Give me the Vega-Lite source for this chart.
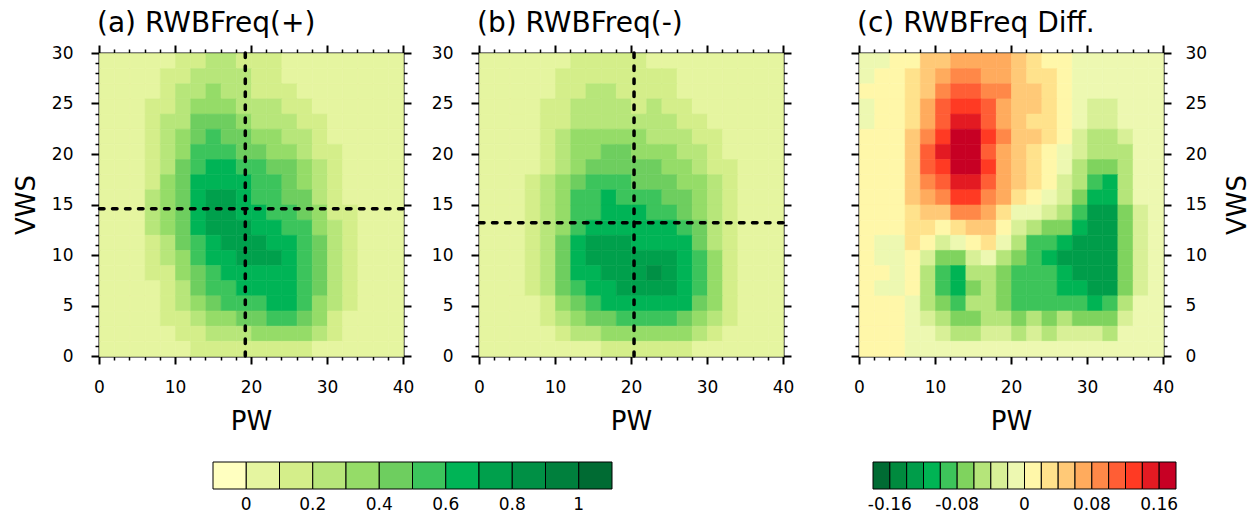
{
"$schema":"https://vega.github.io/schema/vega-lite/v6.json",
"background":"white",
"padding":{"left":13,"top":10,"right":0,"bottom":0},
"autosize":{"type":"pad"},
"spacing":76,
"bounds":"flush",
"resolve":{"scale":{"color":"independent","stroke":"independent"},"legend":{"color":"independent","stroke":"independent"}},
"datasets":{
"pa":[
{"x":1,"y":29.25,"v":0.05},{"x":3,"y":29.25,"v":0.05},{"x":5,"y":29.25,"v":0.05},{"x":7,"y":29.25,"v":0.05},{"x":9,"y":29.25,"v":0.05},{"x":11,"y":29.25,"v":0.15},{"x":13,"y":29.25,"v":0.15},{"x":15,"y":29.25,"v":0.25},{"x":17,"y":29.25,"v":0.25},{"x":19,"y":29.25,"v":0.15},{"x":21,"y":29.25,"v":0.15},{"x":23,"y":29.25,"v":0.15},{"x":25,"y":29.25,"v":0.05},{"x":27,"y":29.25,"v":0.05},{"x":29,"y":29.25,"v":0.05},{"x":31,"y":29.25,"v":0.05},{"x":33,"y":29.25,"v":0.05},{"x":35,"y":29.25,"v":0.05},{"x":37,"y":29.25,"v":0.05},{"x":39,"y":29.25,"v":0.05},
{"x":1,"y":27.75,"v":0.05},{"x":3,"y":27.75,"v":0.05},{"x":5,"y":27.75,"v":0.05},{"x":7,"y":27.75,"v":0.05},{"x":9,"y":27.75,"v":0.15},{"x":11,"y":27.75,"v":0.15},{"x":13,"y":27.75,"v":0.25},{"x":15,"y":27.75,"v":0.25},{"x":17,"y":27.75,"v":0.25},{"x":19,"y":27.75,"v":0.25},{"x":21,"y":27.75,"v":0.15},{"x":23,"y":27.75,"v":0.15},{"x":25,"y":27.75,"v":0.05},{"x":27,"y":27.75,"v":0.05},{"x":29,"y":27.75,"v":0.05},{"x":31,"y":27.75,"v":0.05},{"x":33,"y":27.75,"v":0.05},{"x":35,"y":27.75,"v":0.05},{"x":37,"y":27.75,"v":0.05},{"x":39,"y":27.75,"v":0.05},
{"x":1,"y":26.25,"v":0.05},{"x":3,"y":26.25,"v":0.05},{"x":5,"y":26.25,"v":0.05},{"x":7,"y":26.25,"v":0.05},{"x":9,"y":26.25,"v":0.15},{"x":11,"y":26.25,"v":0.25},{"x":13,"y":26.25,"v":0.25},{"x":15,"y":26.25,"v":0.35},{"x":17,"y":26.25,"v":0.25},{"x":19,"y":26.25,"v":0.25},{"x":21,"y":26.25,"v":0.15},{"x":23,"y":26.25,"v":0.15},{"x":25,"y":26.25,"v":0.15},{"x":27,"y":26.25,"v":0.05},{"x":29,"y":26.25,"v":0.05},{"x":31,"y":26.25,"v":0.05},{"x":33,"y":26.25,"v":0.05},{"x":35,"y":26.25,"v":0.05},{"x":37,"y":26.25,"v":0.05},{"x":39,"y":26.25,"v":0.05},
{"x":1,"y":24.75,"v":0.05},{"x":3,"y":24.75,"v":0.05},{"x":5,"y":24.75,"v":0.05},{"x":7,"y":24.75,"v":0.15},{"x":9,"y":24.75,"v":0.15},{"x":11,"y":24.75,"v":0.25},{"x":13,"y":24.75,"v":0.35},{"x":15,"y":24.75,"v":0.35},{"x":17,"y":24.75,"v":0.35},{"x":19,"y":24.75,"v":0.25},{"x":21,"y":24.75,"v":0.25},{"x":23,"y":24.75,"v":0.25},{"x":25,"y":24.75,"v":0.15},{"x":27,"y":24.75,"v":0.15},{"x":29,"y":24.75,"v":0.05},{"x":31,"y":24.75,"v":0.05},{"x":33,"y":24.75,"v":0.05},{"x":35,"y":24.75,"v":0.05},{"x":37,"y":24.75,"v":0.05},{"x":39,"y":24.75,"v":0.05},
{"x":1,"y":23.25,"v":0.05},{"x":3,"y":23.25,"v":0.05},{"x":5,"y":23.25,"v":0.05},{"x":7,"y":23.25,"v":0.15},{"x":9,"y":23.25,"v":0.25},{"x":11,"y":23.25,"v":0.25},{"x":13,"y":23.25,"v":0.45},{"x":15,"y":23.25,"v":0.45},{"x":17,"y":23.25,"v":0.45},{"x":19,"y":23.25,"v":0.35},{"x":21,"y":23.25,"v":0.25},{"x":23,"y":23.25,"v":0.25},{"x":25,"y":23.25,"v":0.25},{"x":27,"y":23.25,"v":0.15},{"x":29,"y":23.25,"v":0.15},{"x":31,"y":23.25,"v":0.05},{"x":33,"y":23.25,"v":0.05},{"x":35,"y":23.25,"v":0.05},{"x":37,"y":23.25,"v":0.05},{"x":39,"y":23.25,"v":0.05},
{"x":1,"y":21.75,"v":0.05},{"x":3,"y":21.75,"v":0.05},{"x":5,"y":21.75,"v":0.05},{"x":7,"y":21.75,"v":0.15},{"x":9,"y":21.75,"v":0.25},{"x":11,"y":21.75,"v":0.35},{"x":13,"y":21.75,"v":0.45},{"x":15,"y":21.75,"v":0.55},{"x":17,"y":21.75,"v":0.45},{"x":19,"y":21.75,"v":0.45},{"x":21,"y":21.75,"v":0.35},{"x":23,"y":21.75,"v":0.35},{"x":25,"y":21.75,"v":0.25},{"x":27,"y":21.75,"v":0.25},{"x":29,"y":21.75,"v":0.15},{"x":31,"y":21.75,"v":0.05},{"x":33,"y":21.75,"v":0.05},{"x":35,"y":21.75,"v":0.05},{"x":37,"y":21.75,"v":0.05},{"x":39,"y":21.75,"v":0.05},
{"x":1,"y":20.25,"v":0.05},{"x":3,"y":20.25,"v":0.05},{"x":5,"y":20.25,"v":0.05},{"x":7,"y":20.25,"v":0.15},{"x":9,"y":20.25,"v":0.25},{"x":11,"y":20.25,"v":0.35},{"x":13,"y":20.25,"v":0.55},{"x":15,"y":20.25,"v":0.55},{"x":17,"y":20.25,"v":0.55},{"x":19,"y":20.25,"v":0.45},{"x":21,"y":20.25,"v":0.45},{"x":23,"y":20.25,"v":0.35},{"x":25,"y":20.25,"v":0.35},{"x":27,"y":20.25,"v":0.25},{"x":29,"y":20.25,"v":0.15},{"x":31,"y":20.25,"v":0.15},{"x":33,"y":20.25,"v":0.05},{"x":35,"y":20.25,"v":0.05},{"x":37,"y":20.25,"v":0.05},{"x":39,"y":20.25,"v":0.05},
{"x":1,"y":18.75,"v":0.05},{"x":3,"y":18.75,"v":0.05},{"x":5,"y":18.75,"v":0.05},{"x":7,"y":18.75,"v":0.15},{"x":9,"y":18.75,"v":0.25},{"x":11,"y":18.75,"v":0.45},{"x":13,"y":18.75,"v":0.55},{"x":15,"y":18.75,"v":0.65},{"x":17,"y":18.75,"v":0.65},{"x":19,"y":18.75,"v":0.55},{"x":21,"y":18.75,"v":0.55},{"x":23,"y":18.75,"v":0.45},{"x":25,"y":18.75,"v":0.45},{"x":27,"y":18.75,"v":0.35},{"x":29,"y":18.75,"v":0.25},{"x":31,"y":18.75,"v":0.15},{"x":33,"y":18.75,"v":0.05},{"x":35,"y":18.75,"v":0.05},{"x":37,"y":18.75,"v":0.05},{"x":39,"y":18.75,"v":0.05},
{"x":1,"y":17.25,"v":0.05},{"x":3,"y":17.25,"v":0.05},{"x":5,"y":17.25,"v":0.05},{"x":7,"y":17.25,"v":0.15},{"x":9,"y":17.25,"v":0.35},{"x":11,"y":17.25,"v":0.45},{"x":13,"y":17.25,"v":0.65},{"x":15,"y":17.25,"v":0.65},{"x":17,"y":17.25,"v":0.65},{"x":19,"y":17.25,"v":0.65},{"x":21,"y":17.25,"v":0.55},{"x":23,"y":17.25,"v":0.55},{"x":25,"y":17.25,"v":0.45},{"x":27,"y":17.25,"v":0.35},{"x":29,"y":17.25,"v":0.25},{"x":31,"y":17.25,"v":0.15},{"x":33,"y":17.25,"v":0.05},{"x":35,"y":17.25,"v":0.05},{"x":37,"y":17.25,"v":0.05},{"x":39,"y":17.25,"v":0.05},
{"x":1,"y":15.75,"v":0.05},{"x":3,"y":15.75,"v":0.05},{"x":5,"y":15.75,"v":0.05},{"x":7,"y":15.75,"v":0.25},{"x":9,"y":15.75,"v":0.35},{"x":11,"y":15.75,"v":0.45},{"x":13,"y":15.75,"v":0.65},{"x":15,"y":15.75,"v":0.75},{"x":17,"y":15.75,"v":0.75},{"x":19,"y":15.75,"v":0.65},{"x":21,"y":15.75,"v":0.55},{"x":23,"y":15.75,"v":0.55},{"x":25,"y":15.75,"v":0.45},{"x":27,"y":15.75,"v":0.45},{"x":29,"y":15.75,"v":0.25},{"x":31,"y":15.75,"v":0.15},{"x":33,"y":15.75,"v":0.05},{"x":35,"y":15.75,"v":0.05},{"x":37,"y":15.75,"v":0.05},{"x":39,"y":15.75,"v":0.05},
{"x":1,"y":14.25,"v":0.05},{"x":3,"y":14.25,"v":0.05},{"x":5,"y":14.25,"v":0.05},{"x":7,"y":14.25,"v":0.25},{"x":9,"y":14.25,"v":0.35},{"x":11,"y":14.25,"v":0.45},{"x":13,"y":14.25,"v":0.65},{"x":15,"y":14.25,"v":0.75},{"x":17,"y":14.25,"v":0.75},{"x":19,"y":14.25,"v":0.65},{"x":21,"y":14.25,"v":0.65},{"x":23,"y":14.25,"v":0.55},{"x":25,"y":14.25,"v":0.55},{"x":27,"y":14.25,"v":0.45},{"x":29,"y":14.25,"v":0.35},{"x":31,"y":14.25,"v":0.15},{"x":33,"y":14.25,"v":0.15},{"x":35,"y":14.25,"v":0.05},{"x":37,"y":14.25,"v":0.05},{"x":39,"y":14.25,"v":0.05},
{"x":1,"y":12.75,"v":0.05},{"x":3,"y":12.75,"v":0.05},{"x":5,"y":12.75,"v":0.05},{"x":7,"y":12.75,"v":0.25},{"x":9,"y":12.75,"v":0.35},{"x":11,"y":12.75,"v":0.45},{"x":13,"y":12.75,"v":0.65},{"x":15,"y":12.75,"v":0.75},{"x":17,"y":12.75,"v":0.75},{"x":19,"y":12.75,"v":0.75},{"x":21,"y":12.75,"v":0.65},{"x":23,"y":12.75,"v":0.65},{"x":25,"y":12.75,"v":0.55},{"x":27,"y":12.75,"v":0.55},{"x":29,"y":12.75,"v":0.35},{"x":31,"y":12.75,"v":0.25},{"x":33,"y":12.75,"v":0.15},{"x":35,"y":12.75,"v":0.05},{"x":37,"y":12.75,"v":0.05},{"x":39,"y":12.75,"v":0.05},
{"x":1,"y":11.25,"v":0.05},{"x":3,"y":11.25,"v":0.05},{"x":5,"y":11.25,"v":0.05},{"x":7,"y":11.25,"v":0.15},{"x":9,"y":11.25,"v":0.25},{"x":11,"y":11.25,"v":0.45},{"x":13,"y":11.25,"v":0.55},{"x":15,"y":11.25,"v":0.65},{"x":17,"y":11.25,"v":0.75},{"x":19,"y":11.25,"v":0.75},{"x":21,"y":11.25,"v":0.75},{"x":23,"y":11.25,"v":0.65},{"x":25,"y":11.25,"v":0.65},{"x":27,"y":11.25,"v":0.55},{"x":29,"y":11.25,"v":0.45},{"x":31,"y":11.25,"v":0.25},{"x":33,"y":11.25,"v":0.15},{"x":35,"y":11.25,"v":0.05},{"x":37,"y":11.25,"v":0.05},{"x":39,"y":11.25,"v":0.05},
{"x":1,"y":9.75,"v":0.05},{"x":3,"y":9.75,"v":0.05},{"x":5,"y":9.75,"v":0.05},{"x":7,"y":9.75,"v":0.15},{"x":9,"y":9.75,"v":0.25},{"x":11,"y":9.75,"v":0.35},{"x":13,"y":9.75,"v":0.55},{"x":15,"y":9.75,"v":0.65},{"x":17,"y":9.75,"v":0.65},{"x":19,"y":9.75,"v":0.75},{"x":21,"y":9.75,"v":0.75},{"x":23,"y":9.75,"v":0.75},{"x":25,"y":9.75,"v":0.65},{"x":27,"y":9.75,"v":0.55},{"x":29,"y":9.75,"v":0.45},{"x":31,"y":9.75,"v":0.25},{"x":33,"y":9.75,"v":0.15},{"x":35,"y":9.75,"v":0.05},{"x":37,"y":9.75,"v":0.05},{"x":39,"y":9.75,"v":0.05},
{"x":1,"y":8.25,"v":0.05},{"x":3,"y":8.25,"v":0.05},{"x":5,"y":8.25,"v":0.05},{"x":7,"y":8.25,"v":0.15},{"x":9,"y":8.25,"v":0.15},{"x":11,"y":8.25,"v":0.35},{"x":13,"y":8.25,"v":0.45},{"x":15,"y":8.25,"v":0.55},{"x":17,"y":8.25,"v":0.65},{"x":19,"y":8.25,"v":0.65},{"x":21,"y":8.25,"v":0.65},{"x":23,"y":8.25,"v":0.65},{"x":25,"y":8.25,"v":0.65},{"x":27,"y":8.25,"v":0.55},{"x":29,"y":8.25,"v":0.45},{"x":31,"y":8.25,"v":0.25},{"x":33,"y":8.25,"v":0.15},{"x":35,"y":8.25,"v":0.05},{"x":37,"y":8.25,"v":0.05},{"x":39,"y":8.25,"v":0.05},
{"x":1,"y":6.75,"v":0.05},{"x":3,"y":6.75,"v":0.05},{"x":5,"y":6.75,"v":0.05},{"x":7,"y":6.75,"v":0.05},{"x":9,"y":6.75,"v":0.15},{"x":11,"y":6.75,"v":0.25},{"x":13,"y":6.75,"v":0.45},{"x":15,"y":6.75,"v":0.55},{"x":17,"y":6.75,"v":0.55},{"x":19,"y":6.75,"v":0.65},{"x":21,"y":6.75,"v":0.65},{"x":23,"y":6.75,"v":0.65},{"x":25,"y":6.75,"v":0.65},{"x":27,"y":6.75,"v":0.55},{"x":29,"y":6.75,"v":0.45},{"x":31,"y":6.75,"v":0.25},{"x":33,"y":6.75,"v":0.15},{"x":35,"y":6.75,"v":0.05},{"x":37,"y":6.75,"v":0.05},{"x":39,"y":6.75,"v":0.05},
{"x":1,"y":5.25,"v":0.05},{"x":3,"y":5.25,"v":0.05},{"x":5,"y":5.25,"v":0.05},{"x":7,"y":5.25,"v":0.05},{"x":9,"y":5.25,"v":0.15},{"x":11,"y":5.25,"v":0.25},{"x":13,"y":5.25,"v":0.35},{"x":15,"y":5.25,"v":0.45},{"x":17,"y":5.25,"v":0.55},{"x":19,"y":5.25,"v":0.55},{"x":21,"y":5.25,"v":0.55},{"x":23,"y":5.25,"v":0.65},{"x":25,"y":5.25,"v":0.65},{"x":27,"y":5.25,"v":0.55},{"x":29,"y":5.25,"v":0.35},{"x":31,"y":5.25,"v":0.25},{"x":33,"y":5.25,"v":0.15},{"x":35,"y":5.25,"v":0.05},{"x":37,"y":5.25,"v":0.05},{"x":39,"y":5.25,"v":0.05},
{"x":1,"y":3.75,"v":0.05},{"x":3,"y":3.75,"v":0.05},{"x":5,"y":3.75,"v":0.05},{"x":7,"y":3.75,"v":0.05},{"x":9,"y":3.75,"v":0.15},{"x":11,"y":3.75,"v":0.15},{"x":13,"y":3.75,"v":0.25},{"x":15,"y":3.75,"v":0.35},{"x":17,"y":3.75,"v":0.35},{"x":19,"y":3.75,"v":0.45},{"x":21,"y":3.75,"v":0.45},{"x":23,"y":3.75,"v":0.55},{"x":25,"y":3.75,"v":0.55},{"x":27,"y":3.75,"v":0.45},{"x":29,"y":3.75,"v":0.35},{"x":31,"y":3.75,"v":0.15},{"x":33,"y":3.75,"v":0.05},{"x":35,"y":3.75,"v":0.05},{"x":37,"y":3.75,"v":0.05},{"x":39,"y":3.75,"v":0.05},
{"x":1,"y":2.25,"v":0.05},{"x":3,"y":2.25,"v":0.05},{"x":5,"y":2.25,"v":0.05},{"x":7,"y":2.25,"v":0.05},{"x":9,"y":2.25,"v":0.05},{"x":11,"y":2.25,"v":0.15},{"x":13,"y":2.25,"v":0.15},{"x":15,"y":2.25,"v":0.25},{"x":17,"y":2.25,"v":0.25},{"x":19,"y":2.25,"v":0.25},{"x":21,"y":2.25,"v":0.35},{"x":23,"y":2.25,"v":0.35},{"x":25,"y":2.25,"v":0.35},{"x":27,"y":2.25,"v":0.35},{"x":29,"y":2.25,"v":0.25},{"x":31,"y":2.25,"v":0.15},{"x":33,"y":2.25,"v":0.05},{"x":35,"y":2.25,"v":0.05},{"x":37,"y":2.25,"v":0.05},{"x":39,"y":2.25,"v":0.05},
{"x":1,"y":0.75,"v":0.05},{"x":3,"y":0.75,"v":0.05},{"x":5,"y":0.75,"v":0.05},{"x":7,"y":0.75,"v":0.05},{"x":9,"y":0.75,"v":0.05},{"x":11,"y":0.75,"v":0.05},{"x":13,"y":0.75,"v":0.15},{"x":15,"y":0.75,"v":0.15},{"x":17,"y":0.75,"v":0.15},{"x":19,"y":0.75,"v":0.15},{"x":21,"y":0.75,"v":0.15},{"x":23,"y":0.75,"v":0.15},{"x":25,"y":0.75,"v":0.15},{"x":27,"y":0.75,"v":0.15},{"x":29,"y":0.75,"v":0.05},{"x":31,"y":0.75,"v":0.05},{"x":33,"y":0.75,"v":0.05},{"x":35,"y":0.75,"v":0.05},{"x":37,"y":0.75,"v":0.05},{"x":39,"y":0.75,"v":0.05}
],
"pb":[
{"x":1,"y":29.25,"v":0.05},{"x":3,"y":29.25,"v":0.05},{"x":5,"y":29.25,"v":0.05},{"x":7,"y":29.25,"v":0.05},{"x":9,"y":29.25,"v":0.05},{"x":11,"y":29.25,"v":0.05},{"x":13,"y":29.25,"v":0.15},{"x":15,"y":29.25,"v":0.15},{"x":17,"y":29.25,"v":0.15},{"x":19,"y":29.25,"v":0.15},{"x":21,"y":29.25,"v":0.15},{"x":23,"y":29.25,"v":0.05},{"x":25,"y":29.25,"v":0.05},{"x":27,"y":29.25,"v":0.05},{"x":29,"y":29.25,"v":0.05},{"x":31,"y":29.25,"v":0.05},{"x":33,"y":29.25,"v":0.05},{"x":35,"y":29.25,"v":0.05},{"x":37,"y":29.25,"v":0.05},{"x":39,"y":29.25,"v":0.05},
{"x":1,"y":27.75,"v":0.05},{"x":3,"y":27.75,"v":0.05},{"x":5,"y":27.75,"v":0.05},{"x":7,"y":27.75,"v":0.05},{"x":9,"y":27.75,"v":0.05},{"x":11,"y":27.75,"v":0.15},{"x":13,"y":27.75,"v":0.15},{"x":15,"y":27.75,"v":0.15},{"x":17,"y":27.75,"v":0.15},{"x":19,"y":27.75,"v":0.15},{"x":21,"y":27.75,"v":0.15},{"x":23,"y":27.75,"v":0.15},{"x":25,"y":27.75,"v":0.15},{"x":27,"y":27.75,"v":0.05},{"x":29,"y":27.75,"v":0.05},{"x":31,"y":27.75,"v":0.05},{"x":33,"y":27.75,"v":0.05},{"x":35,"y":27.75,"v":0.05},{"x":37,"y":27.75,"v":0.05},{"x":39,"y":27.75,"v":0.05},
{"x":1,"y":26.25,"v":0.05},{"x":3,"y":26.25,"v":0.05},{"x":5,"y":26.25,"v":0.05},{"x":7,"y":26.25,"v":0.05},{"x":9,"y":26.25,"v":0.05},{"x":11,"y":26.25,"v":0.15},{"x":13,"y":26.25,"v":0.15},{"x":15,"y":26.25,"v":0.25},{"x":17,"y":26.25,"v":0.25},{"x":19,"y":26.25,"v":0.15},{"x":21,"y":26.25,"v":0.15},{"x":23,"y":26.25,"v":0.15},{"x":25,"y":26.25,"v":0.15},{"x":27,"y":26.25,"v":0.05},{"x":29,"y":26.25,"v":0.05},{"x":31,"y":26.25,"v":0.05},{"x":33,"y":26.25,"v":0.05},{"x":35,"y":26.25,"v":0.05},{"x":37,"y":26.25,"v":0.05},{"x":39,"y":26.25,"v":0.05},
{"x":1,"y":24.75,"v":0.05},{"x":3,"y":24.75,"v":0.05},{"x":5,"y":24.75,"v":0.05},{"x":7,"y":24.75,"v":0.05},{"x":9,"y":24.75,"v":0.15},{"x":11,"y":24.75,"v":0.15},{"x":13,"y":24.75,"v":0.25},{"x":15,"y":24.75,"v":0.25},{"x":17,"y":24.75,"v":0.25},{"x":19,"y":24.75,"v":0.25},{"x":21,"y":24.75,"v":0.15},{"x":23,"y":24.75,"v":0.25},{"x":25,"y":24.75,"v":0.15},{"x":27,"y":24.75,"v":0.15},{"x":29,"y":24.75,"v":0.05},{"x":31,"y":24.75,"v":0.05},{"x":33,"y":24.75,"v":0.05},{"x":35,"y":24.75,"v":0.05},{"x":37,"y":24.75,"v":0.05},{"x":39,"y":24.75,"v":0.05},
{"x":1,"y":23.25,"v":0.05},{"x":3,"y":23.25,"v":0.05},{"x":5,"y":23.25,"v":0.05},{"x":7,"y":23.25,"v":0.05},{"x":9,"y":23.25,"v":0.15},{"x":11,"y":23.25,"v":0.15},{"x":13,"y":23.25,"v":0.25},{"x":15,"y":23.25,"v":0.25},{"x":17,"y":23.25,"v":0.25},{"x":19,"y":23.25,"v":0.25},{"x":21,"y":23.25,"v":0.25},{"x":23,"y":23.25,"v":0.25},{"x":25,"y":23.25,"v":0.25},{"x":27,"y":23.25,"v":0.15},{"x":29,"y":23.25,"v":0.15},{"x":31,"y":23.25,"v":0.05},{"x":33,"y":23.25,"v":0.05},{"x":35,"y":23.25,"v":0.05},{"x":37,"y":23.25,"v":0.05},{"x":39,"y":23.25,"v":0.05},
{"x":1,"y":21.75,"v":0.05},{"x":3,"y":21.75,"v":0.05},{"x":5,"y":21.75,"v":0.05},{"x":7,"y":21.75,"v":0.05},{"x":9,"y":21.75,"v":0.15},{"x":11,"y":21.75,"v":0.25},{"x":13,"y":21.75,"v":0.35},{"x":15,"y":21.75,"v":0.35},{"x":17,"y":21.75,"v":0.35},{"x":19,"y":21.75,"v":0.35},{"x":21,"y":21.75,"v":0.35},{"x":23,"y":21.75,"v":0.25},{"x":25,"y":21.75,"v":0.25},{"x":27,"y":21.75,"v":0.25},{"x":29,"y":21.75,"v":0.15},{"x":31,"y":21.75,"v":0.15},{"x":33,"y":21.75,"v":0.05},{"x":35,"y":21.75,"v":0.05},{"x":37,"y":21.75,"v":0.05},{"x":39,"y":21.75,"v":0.05},
{"x":1,"y":20.25,"v":0.05},{"x":3,"y":20.25,"v":0.05},{"x":5,"y":20.25,"v":0.05},{"x":7,"y":20.25,"v":0.05},{"x":9,"y":20.25,"v":0.15},{"x":11,"y":20.25,"v":0.25},{"x":13,"y":20.25,"v":0.35},{"x":15,"y":20.25,"v":0.35},{"x":17,"y":20.25,"v":0.45},{"x":19,"y":20.25,"v":0.45},{"x":21,"y":20.25,"v":0.35},{"x":23,"y":20.25,"v":0.35},{"x":25,"y":20.25,"v":0.35},{"x":27,"y":20.25,"v":0.25},{"x":29,"y":20.25,"v":0.25},{"x":31,"y":20.25,"v":0.15},{"x":33,"y":20.25,"v":0.05},{"x":35,"y":20.25,"v":0.05},{"x":37,"y":20.25,"v":0.05},{"x":39,"y":20.25,"v":0.05},
{"x":1,"y":18.75,"v":0.05},{"x":3,"y":18.75,"v":0.05},{"x":5,"y":18.75,"v":0.05},{"x":7,"y":18.75,"v":0.05},{"x":9,"y":18.75,"v":0.15},{"x":11,"y":18.75,"v":0.25},{"x":13,"y":18.75,"v":0.35},{"x":15,"y":18.75,"v":0.45},{"x":17,"y":18.75,"v":0.45},{"x":19,"y":18.75,"v":0.45},{"x":21,"y":18.75,"v":0.45},{"x":23,"y":18.75,"v":0.45},{"x":25,"y":18.75,"v":0.35},{"x":27,"y":18.75,"v":0.35},{"x":29,"y":18.75,"v":0.25},{"x":31,"y":18.75,"v":0.15},{"x":33,"y":18.75,"v":0.15},{"x":35,"y":18.75,"v":0.05},{"x":37,"y":18.75,"v":0.05},{"x":39,"y":18.75,"v":0.05},
{"x":1,"y":17.25,"v":0.05},{"x":3,"y":17.25,"v":0.05},{"x":5,"y":17.25,"v":0.05},{"x":7,"y":17.25,"v":0.15},{"x":9,"y":17.25,"v":0.25},{"x":11,"y":17.25,"v":0.35},{"x":13,"y":17.25,"v":0.45},{"x":15,"y":17.25,"v":0.55},{"x":17,"y":17.25,"v":0.55},{"x":19,"y":17.25,"v":0.55},{"x":21,"y":17.25,"v":0.45},{"x":23,"y":17.25,"v":0.45},{"x":25,"y":17.25,"v":0.45},{"x":27,"y":17.25,"v":0.35},{"x":29,"y":17.25,"v":0.35},{"x":31,"y":17.25,"v":0.25},{"x":33,"y":17.25,"v":0.15},{"x":35,"y":17.25,"v":0.05},{"x":37,"y":17.25,"v":0.05},{"x":39,"y":17.25,"v":0.05},
{"x":1,"y":15.75,"v":0.05},{"x":3,"y":15.75,"v":0.05},{"x":5,"y":15.75,"v":0.05},{"x":7,"y":15.75,"v":0.15},{"x":9,"y":15.75,"v":0.25},{"x":11,"y":15.75,"v":0.35},{"x":13,"y":15.75,"v":0.55},{"x":15,"y":15.75,"v":0.55},{"x":17,"y":15.75,"v":0.65},{"x":19,"y":15.75,"v":0.55},{"x":21,"y":15.75,"v":0.55},{"x":23,"y":15.75,"v":0.55},{"x":25,"y":15.75,"v":0.45},{"x":27,"y":15.75,"v":0.45},{"x":29,"y":15.75,"v":0.35},{"x":31,"y":15.75,"v":0.25},{"x":33,"y":15.75,"v":0.15},{"x":35,"y":15.75,"v":0.05},{"x":37,"y":15.75,"v":0.05},{"x":39,"y":15.75,"v":0.05},
{"x":1,"y":14.25,"v":0.05},{"x":3,"y":14.25,"v":0.05},{"x":5,"y":14.25,"v":0.05},{"x":7,"y":14.25,"v":0.15},{"x":9,"y":14.25,"v":0.25},{"x":11,"y":14.25,"v":0.35},{"x":13,"y":14.25,"v":0.55},{"x":15,"y":14.25,"v":0.55},{"x":17,"y":14.25,"v":0.65},{"x":19,"y":14.25,"v":0.65},{"x":21,"y":14.25,"v":0.65},{"x":23,"y":14.25,"v":0.55},{"x":25,"y":14.25,"v":0.55},{"x":27,"y":14.25,"v":0.45},{"x":29,"y":14.25,"v":0.35},{"x":31,"y":14.25,"v":0.25},{"x":33,"y":14.25,"v":0.15},{"x":35,"y":14.25,"v":0.05},{"x":37,"y":14.25,"v":0.05},{"x":39,"y":14.25,"v":0.05},
{"x":1,"y":12.75,"v":0.05},{"x":3,"y":12.75,"v":0.05},{"x":5,"y":12.75,"v":0.05},{"x":7,"y":12.75,"v":0.15},{"x":9,"y":12.75,"v":0.25},{"x":11,"y":12.75,"v":0.35},{"x":13,"y":12.75,"v":0.55},{"x":15,"y":12.75,"v":0.65},{"x":17,"y":12.75,"v":0.65},{"x":19,"y":12.75,"v":0.65},{"x":21,"y":12.75,"v":0.65},{"x":23,"y":12.75,"v":0.65},{"x":25,"y":12.75,"v":0.65},{"x":27,"y":12.75,"v":0.55},{"x":29,"y":12.75,"v":0.45},{"x":31,"y":12.75,"v":0.25},{"x":33,"y":12.75,"v":0.15},{"x":35,"y":12.75,"v":0.05},{"x":37,"y":12.75,"v":0.05},{"x":39,"y":12.75,"v":0.05},
{"x":1,"y":11.25,"v":0.05},{"x":3,"y":11.25,"v":0.05},{"x":5,"y":11.25,"v":0.05},{"x":7,"y":11.25,"v":0.15},{"x":9,"y":11.25,"v":0.25},{"x":11,"y":11.25,"v":0.45},{"x":13,"y":11.25,"v":0.65},{"x":15,"y":11.25,"v":0.75},{"x":17,"y":11.25,"v":0.75},{"x":19,"y":11.25,"v":0.75},{"x":21,"y":11.25,"v":0.65},{"x":23,"y":11.25,"v":0.65},{"x":25,"y":11.25,"v":0.65},{"x":27,"y":11.25,"v":0.65},{"x":29,"y":11.25,"v":0.45},{"x":31,"y":11.25,"v":0.25},{"x":33,"y":11.25,"v":0.15},{"x":35,"y":11.25,"v":0.05},{"x":37,"y":11.25,"v":0.05},{"x":39,"y":11.25,"v":0.05},
{"x":1,"y":9.75,"v":0.05},{"x":3,"y":9.75,"v":0.05},{"x":5,"y":9.75,"v":0.05},{"x":7,"y":9.75,"v":0.15},{"x":9,"y":9.75,"v":0.25},{"x":11,"y":9.75,"v":0.45},{"x":13,"y":9.75,"v":0.65},{"x":15,"y":9.75,"v":0.75},{"x":17,"y":9.75,"v":0.75},{"x":19,"y":9.75,"v":0.75},{"x":21,"y":9.75,"v":0.75},{"x":23,"y":9.75,"v":0.75},{"x":25,"y":9.75,"v":0.75},{"x":27,"y":9.75,"v":0.65},{"x":29,"y":9.75,"v":0.55},{"x":31,"y":9.75,"v":0.35},{"x":33,"y":9.75,"v":0.15},{"x":35,"y":9.75,"v":0.05},{"x":37,"y":9.75,"v":0.05},{"x":39,"y":9.75,"v":0.05},
{"x":1,"y":8.25,"v":0.05},{"x":3,"y":8.25,"v":0.05},{"x":5,"y":8.25,"v":0.05},{"x":7,"y":8.25,"v":0.15},{"x":9,"y":8.25,"v":0.25},{"x":11,"y":8.25,"v":0.45},{"x":13,"y":8.25,"v":0.65},{"x":15,"y":8.25,"v":0.65},{"x":17,"y":8.25,"v":0.75},{"x":19,"y":8.25,"v":0.75},{"x":21,"y":8.25,"v":0.75},{"x":23,"y":8.25,"v":0.85},{"x":25,"y":8.25,"v":0.75},{"x":27,"y":8.25,"v":0.65},{"x":29,"y":8.25,"v":0.55},{"x":31,"y":8.25,"v":0.35},{"x":33,"y":8.25,"v":0.15},{"x":35,"y":8.25,"v":0.05},{"x":37,"y":8.25,"v":0.05},{"x":39,"y":8.25,"v":0.05},
{"x":1,"y":6.75,"v":0.05},{"x":3,"y":6.75,"v":0.05},{"x":5,"y":6.75,"v":0.05},{"x":7,"y":6.75,"v":0.15},{"x":9,"y":6.75,"v":0.25},{"x":11,"y":6.75,"v":0.45},{"x":13,"y":6.75,"v":0.55},{"x":15,"y":6.75,"v":0.65},{"x":17,"y":6.75,"v":0.65},{"x":19,"y":6.75,"v":0.75},{"x":21,"y":6.75,"v":0.75},{"x":23,"y":6.75,"v":0.75},{"x":25,"y":6.75,"v":0.75},{"x":27,"y":6.75,"v":0.65},{"x":29,"y":6.75,"v":0.55},{"x":31,"y":6.75,"v":0.35},{"x":33,"y":6.75,"v":0.15},{"x":35,"y":6.75,"v":0.05},{"x":37,"y":6.75,"v":0.05},{"x":39,"y":6.75,"v":0.05},
{"x":1,"y":5.25,"v":0.05},{"x":3,"y":5.25,"v":0.05},{"x":5,"y":5.25,"v":0.05},{"x":7,"y":5.25,"v":0.05},{"x":9,"y":5.25,"v":0.15},{"x":11,"y":5.25,"v":0.35},{"x":13,"y":5.25,"v":0.45},{"x":15,"y":5.25,"v":0.55},{"x":17,"y":5.25,"v":0.65},{"x":19,"y":5.25,"v":0.65},{"x":21,"y":5.25,"v":0.65},{"x":23,"y":5.25,"v":0.65},{"x":25,"y":5.25,"v":0.65},{"x":27,"y":5.25,"v":0.65},{"x":29,"y":5.25,"v":0.45},{"x":31,"y":5.25,"v":0.35},{"x":33,"y":5.25,"v":0.15},{"x":35,"y":5.25,"v":0.05},{"x":37,"y":5.25,"v":0.05},{"x":39,"y":5.25,"v":0.05},
{"x":1,"y":3.75,"v":0.05},{"x":3,"y":3.75,"v":0.05},{"x":5,"y":3.75,"v":0.05},{"x":7,"y":3.75,"v":0.05},{"x":9,"y":3.75,"v":0.15},{"x":11,"y":3.75,"v":0.25},{"x":13,"y":3.75,"v":0.35},{"x":15,"y":3.75,"v":0.45},{"x":17,"y":3.75,"v":0.45},{"x":19,"y":3.75,"v":0.55},{"x":21,"y":3.75,"v":0.55},{"x":23,"y":3.75,"v":0.55},{"x":25,"y":3.75,"v":0.55},{"x":27,"y":3.75,"v":0.45},{"x":29,"y":3.75,"v":0.35},{"x":31,"y":3.75,"v":0.25},{"x":33,"y":3.75,"v":0.15},{"x":35,"y":3.75,"v":0.05},{"x":37,"y":3.75,"v":0.05},{"x":39,"y":3.75,"v":0.05},
{"x":1,"y":2.25,"v":0.05},{"x":3,"y":2.25,"v":0.05},{"x":5,"y":2.25,"v":0.05},{"x":7,"y":2.25,"v":0.05},{"x":9,"y":2.25,"v":0.05},{"x":11,"y":2.25,"v":0.15},{"x":13,"y":2.25,"v":0.25},{"x":15,"y":2.25,"v":0.25},{"x":17,"y":2.25,"v":0.35},{"x":19,"y":2.25,"v":0.35},{"x":21,"y":2.25,"v":0.35},{"x":23,"y":2.25,"v":0.35},{"x":25,"y":2.25,"v":0.35},{"x":27,"y":2.25,"v":0.35},{"x":29,"y":2.25,"v":0.25},{"x":31,"y":2.25,"v":0.15},{"x":33,"y":2.25,"v":0.05},{"x":35,"y":2.25,"v":0.05},{"x":37,"y":2.25,"v":0.05},{"x":39,"y":2.25,"v":0.05},
{"x":1,"y":0.75,"v":0.05},{"x":3,"y":0.75,"v":0.05},{"x":5,"y":0.75,"v":0.05},{"x":7,"y":0.75,"v":0.05},{"x":9,"y":0.75,"v":0.05},{"x":11,"y":0.75,"v":0.05},{"x":13,"y":0.75,"v":0.05},{"x":15,"y":0.75,"v":0.05},{"x":17,"y":0.75,"v":0.15},{"x":19,"y":0.75,"v":0.15},{"x":21,"y":0.75,"v":0.15},{"x":23,"y":0.75,"v":0.15},{"x":25,"y":0.75,"v":0.15},{"x":27,"y":0.75,"v":0.15},{"x":29,"y":0.75,"v":0.05},{"x":31,"y":0.75,"v":0.05},{"x":33,"y":0.75,"v":0.05},{"x":35,"y":0.75,"v":0.05},{"x":37,"y":0.75,"v":0.05},{"x":39,"y":0.75,"v":0.05}
],
"pc":[
{"x":1,"y":29.25,"v":-0.01},{"x":3,"y":29.25,"v":-0.01},{"x":5,"y":29.25,"v":0.01},{"x":7,"y":29.25,"v":0.01},{"x":9,"y":29.25,"v":0.05},{"x":11,"y":29.25,"v":0.05},{"x":13,"y":29.25,"v":0.07},{"x":15,"y":29.25,"v":0.07},{"x":17,"y":29.25,"v":0.07},{"x":19,"y":29.25,"v":0.07},{"x":21,"y":29.25,"v":0.05},{"x":23,"y":29.25,"v":0.03},{"x":25,"y":29.25,"v":0.01},{"x":27,"y":29.25,"v":0.01},{"x":29,"y":29.25,"v":-0.01},{"x":31,"y":29.25,"v":-0.01},{"x":33,"y":29.25,"v":-0.01},{"x":35,"y":29.25,"v":-0.01},{"x":37,"y":29.25,"v":-0.01},{"x":39,"y":29.25,"v":-0.01},
{"x":1,"y":27.75,"v":-0.01},{"x":3,"y":27.75,"v":0.01},{"x":5,"y":27.75,"v":0.01},{"x":7,"y":27.75,"v":0.03},{"x":9,"y":27.75,"v":0.05},{"x":11,"y":27.75,"v":0.07},{"x":13,"y":27.75,"v":0.09},{"x":15,"y":27.75,"v":0.09},{"x":17,"y":27.75,"v":0.07},{"x":19,"y":27.75,"v":0.07},{"x":21,"y":27.75,"v":0.05},{"x":23,"y":27.75,"v":0.03},{"x":25,"y":27.75,"v":0.03},{"x":27,"y":27.75,"v":0.01},{"x":29,"y":27.75,"v":-0.01},{"x":31,"y":27.75,"v":-0.01},{"x":33,"y":27.75,"v":-0.01},{"x":35,"y":27.75,"v":-0.01},{"x":37,"y":27.75,"v":-0.01},{"x":39,"y":27.75,"v":-0.01},
{"x":1,"y":26.25,"v":0.01},{"x":3,"y":26.25,"v":0.01},{"x":5,"y":26.25,"v":0.01},{"x":7,"y":26.25,"v":0.03},{"x":9,"y":26.25,"v":0.05},{"x":11,"y":26.25,"v":0.09},{"x":13,"y":26.25,"v":0.11},{"x":15,"y":26.25,"v":0.11},{"x":17,"y":26.25,"v":0.09},{"x":19,"y":26.25,"v":0.09},{"x":21,"y":26.25,"v":0.05},{"x":23,"y":26.25,"v":0.05},{"x":25,"y":26.25,"v":0.03},{"x":27,"y":26.25,"v":0.01},{"x":29,"y":26.25,"v":-0.01},{"x":31,"y":26.25,"v":-0.01},{"x":33,"y":26.25,"v":-0.01},{"x":35,"y":26.25,"v":-0.01},{"x":37,"y":26.25,"v":-0.01},{"x":39,"y":26.25,"v":-0.01},
{"x":1,"y":24.75,"v":-0.01},{"x":3,"y":24.75,"v":0.01},{"x":5,"y":24.75,"v":0.01},{"x":7,"y":24.75,"v":0.03},{"x":9,"y":24.75,"v":0.07},{"x":11,"y":24.75,"v":0.11},{"x":13,"y":24.75,"v":0.13},{"x":15,"y":24.75,"v":0.13},{"x":17,"y":24.75,"v":0.11},{"x":19,"y":24.75,"v":0.07},{"x":21,"y":24.75,"v":0.05},{"x":23,"y":24.75,"v":0.05},{"x":25,"y":24.75,"v":0.03},{"x":27,"y":24.75,"v":0.01},{"x":29,"y":24.75,"v":-0.01},{"x":31,"y":24.75,"v":-0.03},{"x":33,"y":24.75,"v":-0.03},{"x":35,"y":24.75,"v":-0.01},{"x":37,"y":24.75,"v":-0.01},{"x":39,"y":24.75,"v":-0.01},
{"x":1,"y":23.25,"v":-0.01},{"x":3,"y":23.25,"v":0.01},{"x":5,"y":23.25,"v":0.01},{"x":7,"y":23.25,"v":0.03},{"x":9,"y":23.25,"v":0.07},{"x":11,"y":23.25,"v":0.11},{"x":13,"y":23.25,"v":0.15},{"x":15,"y":23.25,"v":0.15},{"x":17,"y":23.25,"v":0.11},{"x":19,"y":23.25,"v":0.07},{"x":21,"y":23.25,"v":0.05},{"x":23,"y":23.25,"v":0.03},{"x":25,"y":23.25,"v":0.03},{"x":27,"y":23.25,"v":0.01},{"x":29,"y":23.25,"v":-0.01},{"x":31,"y":23.25,"v":-0.03},{"x":33,"y":23.25,"v":-0.03},{"x":35,"y":23.25,"v":-0.01},{"x":37,"y":23.25,"v":-0.01},{"x":39,"y":23.25,"v":-0.01},
{"x":1,"y":21.75,"v":0.01},{"x":3,"y":21.75,"v":0.01},{"x":5,"y":21.75,"v":0.01},{"x":7,"y":21.75,"v":0.05},{"x":9,"y":21.75,"v":0.09},{"x":11,"y":21.75,"v":0.13},{"x":13,"y":21.75,"v":0.17},{"x":15,"y":21.75,"v":0.17},{"x":17,"y":21.75,"v":0.13},{"x":19,"y":21.75,"v":0.09},{"x":21,"y":21.75,"v":0.05},{"x":23,"y":21.75,"v":0.05},{"x":25,"y":21.75,"v":0.03},{"x":27,"y":21.75,"v":0.01},{"x":29,"y":21.75,"v":-0.03},{"x":31,"y":21.75,"v":-0.05},{"x":33,"y":21.75,"v":-0.05},{"x":35,"y":21.75,"v":-0.03},{"x":37,"y":21.75,"v":-0.01},{"x":39,"y":21.75,"v":-0.01},
{"x":1,"y":20.25,"v":0.01},{"x":3,"y":20.25,"v":0.01},{"x":5,"y":20.25,"v":0.01},{"x":7,"y":20.25,"v":0.05},{"x":9,"y":20.25,"v":0.11},{"x":11,"y":20.25,"v":0.15},{"x":13,"y":20.25,"v":0.17},{"x":15,"y":20.25,"v":0.17},{"x":17,"y":20.25,"v":0.11},{"x":19,"y":20.25,"v":0.07},{"x":21,"y":20.25,"v":0.05},{"x":23,"y":20.25,"v":0.03},{"x":25,"y":20.25,"v":0.01},{"x":27,"y":20.25,"v":-0.01},{"x":29,"y":20.25,"v":-0.03},{"x":31,"y":20.25,"v":-0.05},{"x":33,"y":20.25,"v":-0.05},{"x":35,"y":20.25,"v":-0.05},{"x":37,"y":20.25,"v":-0.01},{"x":39,"y":20.25,"v":-0.01},
{"x":1,"y":18.75,"v":0.01},{"x":3,"y":18.75,"v":0.01},{"x":5,"y":18.75,"v":0.01},{"x":7,"y":18.75,"v":0.05},{"x":9,"y":18.75,"v":0.11},{"x":11,"y":18.75,"v":0.13},{"x":13,"y":18.75,"v":0.17},{"x":15,"y":18.75,"v":0.17},{"x":17,"y":18.75,"v":0.13},{"x":19,"y":18.75,"v":0.07},{"x":21,"y":18.75,"v":0.05},{"x":23,"y":18.75,"v":0.03},{"x":25,"y":18.75,"v":0.01},{"x":27,"y":18.75,"v":-0.01},{"x":29,"y":18.75,"v":-0.05},{"x":31,"y":18.75,"v":-0.07},{"x":33,"y":18.75,"v":-0.07},{"x":35,"y":18.75,"v":-0.05},{"x":37,"y":18.75,"v":-0.01},{"x":39,"y":18.75,"v":-0.01},
{"x":1,"y":17.25,"v":0.01},{"x":3,"y":17.25,"v":0.01},{"x":5,"y":17.25,"v":0.01},{"x":7,"y":17.25,"v":0.05},{"x":9,"y":17.25,"v":0.09},{"x":11,"y":17.25,"v":0.11},{"x":13,"y":17.25,"v":0.15},{"x":15,"y":17.25,"v":0.15},{"x":17,"y":17.25,"v":0.11},{"x":19,"y":17.25,"v":0.07},{"x":21,"y":17.25,"v":0.05},{"x":23,"y":17.25,"v":0.03},{"x":25,"y":17.25,"v":0.01},{"x":27,"y":17.25,"v":-0.03},{"x":29,"y":17.25,"v":-0.05},{"x":31,"y":17.25,"v":-0.09},{"x":33,"y":17.25,"v":-0.11},{"x":35,"y":17.25,"v":-0.05},{"x":37,"y":17.25,"v":-0.01},{"x":39,"y":17.25,"v":-0.01},
{"x":1,"y":15.75,"v":0.01},{"x":3,"y":15.75,"v":0.01},{"x":5,"y":15.75,"v":0.01},{"x":7,"y":15.75,"v":0.05},{"x":9,"y":15.75,"v":0.07},{"x":11,"y":15.75,"v":0.09},{"x":13,"y":15.75,"v":0.13},{"x":15,"y":15.75,"v":0.13},{"x":17,"y":15.75,"v":0.09},{"x":19,"y":15.75,"v":0.07},{"x":21,"y":15.75,"v":0.03},{"x":23,"y":15.75,"v":0.01},{"x":25,"y":15.75,"v":-0.01},{"x":27,"y":15.75,"v":-0.03},{"x":29,"y":15.75,"v":-0.07},{"x":31,"y":15.75,"v":-0.11},{"x":33,"y":15.75,"v":-0.11},{"x":35,"y":15.75,"v":-0.05},{"x":37,"y":15.75,"v":-0.01},{"x":39,"y":15.75,"v":-0.01},
{"x":1,"y":14.25,"v":0.01},{"x":3,"y":14.25,"v":0.01},{"x":5,"y":14.25,"v":0.01},{"x":7,"y":14.25,"v":0.03},{"x":9,"y":14.25,"v":0.05},{"x":11,"y":14.25,"v":0.05},{"x":13,"y":14.25,"v":0.09},{"x":15,"y":14.25,"v":0.09},{"x":17,"y":14.25,"v":0.07},{"x":19,"y":14.25,"v":0.03},{"x":21,"y":14.25,"v":-0.01},{"x":23,"y":14.25,"v":-0.01},{"x":25,"y":14.25,"v":-0.03},{"x":27,"y":14.25,"v":-0.05},{"x":29,"y":14.25,"v":-0.09},{"x":31,"y":14.25,"v":-0.13},{"x":33,"y":14.25,"v":-0.13},{"x":35,"y":14.25,"v":-0.07},{"x":37,"y":14.25,"v":-0.03},{"x":39,"y":14.25,"v":-0.01},
{"x":1,"y":12.75,"v":0.01},{"x":3,"y":12.75,"v":0.01},{"x":5,"y":12.75,"v":0.01},{"x":7,"y":12.75,"v":0.03},{"x":9,"y":12.75,"v":0.03},{"x":11,"y":12.75,"v":0.01},{"x":13,"y":12.75,"v":0.03},{"x":15,"y":12.75,"v":0.05},{"x":17,"y":12.75,"v":0.05},{"x":19,"y":12.75,"v":0.01},{"x":21,"y":12.75,"v":-0.03},{"x":23,"y":12.75,"v":-0.05},{"x":25,"y":12.75,"v":-0.07},{"x":27,"y":12.75,"v":-0.07},{"x":29,"y":12.75,"v":-0.11},{"x":31,"y":12.75,"v":-0.13},{"x":33,"y":12.75,"v":-0.13},{"x":35,"y":12.75,"v":-0.07},{"x":37,"y":12.75,"v":-0.03},{"x":39,"y":12.75,"v":-0.01},
{"x":1,"y":11.25,"v":0.01},{"x":3,"y":11.25,"v":-0.01},{"x":5,"y":11.25,"v":-0.01},{"x":7,"y":11.25,"v":0.03},{"x":9,"y":11.25,"v":0.01},{"x":11,"y":11.25,"v":-0.03},{"x":13,"y":11.25,"v":-0.01},{"x":15,"y":11.25,"v":0.01},{"x":17,"y":11.25,"v":0.03},{"x":19,"y":11.25,"v":-0.01},{"x":21,"y":11.25,"v":-0.05},{"x":23,"y":11.25,"v":-0.09},{"x":25,"y":11.25,"v":-0.09},{"x":27,"y":11.25,"v":-0.11},{"x":29,"y":11.25,"v":-0.13},{"x":31,"y":11.25,"v":-0.13},{"x":33,"y":11.25,"v":-0.13},{"x":35,"y":11.25,"v":-0.07},{"x":37,"y":11.25,"v":-0.03},{"x":39,"y":11.25,"v":-0.01},
{"x":1,"y":9.75,"v":0.01},{"x":3,"y":9.75,"v":-0.01},{"x":5,"y":9.75,"v":-0.01},{"x":7,"y":9.75,"v":0.01},{"x":9,"y":9.75,"v":-0.03},{"x":11,"y":9.75,"v":-0.07},{"x":13,"y":9.75,"v":-0.07},{"x":15,"y":9.75,"v":-0.03},{"x":17,"y":9.75,"v":-0.01},{"x":19,"y":9.75,"v":-0.05},{"x":21,"y":9.75,"v":-0.07},{"x":23,"y":9.75,"v":-0.09},{"x":25,"y":9.75,"v":-0.11},{"x":27,"y":9.75,"v":-0.13},{"x":29,"y":9.75,"v":-0.13},{"x":31,"y":9.75,"v":-0.13},{"x":33,"y":9.75,"v":-0.13},{"x":35,"y":9.75,"v":-0.07},{"x":37,"y":9.75,"v":-0.03},{"x":39,"y":9.75,"v":-0.01},
{"x":1,"y":8.25,"v":0.01},{"x":3,"y":8.25,"v":0.01},{"x":5,"y":8.25,"v":-0.01},{"x":7,"y":8.25,"v":0.01},{"x":9,"y":8.25,"v":-0.05},{"x":11,"y":8.25,"v":-0.09},{"x":13,"y":8.25,"v":-0.11},{"x":15,"y":8.25,"v":-0.05},{"x":17,"y":8.25,"v":-0.05},{"x":19,"y":8.25,"v":-0.07},{"x":21,"y":8.25,"v":-0.09},{"x":23,"y":8.25,"v":-0.09},{"x":25,"y":8.25,"v":-0.09},{"x":27,"y":8.25,"v":-0.11},{"x":29,"y":8.25,"v":-0.13},{"x":31,"y":8.25,"v":-0.13},{"x":33,"y":8.25,"v":-0.13},{"x":35,"y":8.25,"v":-0.07},{"x":37,"y":8.25,"v":-0.03},{"x":39,"y":8.25,"v":-0.01},
{"x":1,"y":6.75,"v":0.01},{"x":3,"y":6.75,"v":-0.01},{"x":5,"y":6.75,"v":-0.01},{"x":7,"y":6.75,"v":0.01},{"x":9,"y":6.75,"v":-0.05},{"x":11,"y":6.75,"v":-0.09},{"x":13,"y":6.75,"v":-0.11},{"x":15,"y":6.75,"v":-0.07},{"x":17,"y":6.75,"v":-0.05},{"x":19,"y":6.75,"v":-0.07},{"x":21,"y":6.75,"v":-0.09},{"x":23,"y":6.75,"v":-0.09},{"x":25,"y":6.75,"v":-0.09},{"x":27,"y":6.75,"v":-0.11},{"x":29,"y":6.75,"v":-0.11},{"x":31,"y":6.75,"v":-0.13},{"x":33,"y":6.75,"v":-0.13},{"x":35,"y":6.75,"v":-0.07},{"x":37,"y":6.75,"v":-0.03},{"x":39,"y":6.75,"v":-0.01},
{"x":1,"y":5.25,"v":0.01},{"x":3,"y":5.25,"v":0.01},{"x":5,"y":5.25,"v":0.01},{"x":7,"y":5.25,"v":-0.01},{"x":9,"y":5.25,"v":-0.05},{"x":11,"y":5.25,"v":-0.07},{"x":13,"y":5.25,"v":-0.09},{"x":15,"y":5.25,"v":-0.05},{"x":17,"y":5.25,"v":-0.05},{"x":19,"y":5.25,"v":-0.07},{"x":21,"y":5.25,"v":-0.09},{"x":23,"y":5.25,"v":-0.09},{"x":25,"y":5.25,"v":-0.09},{"x":27,"y":5.25,"v":-0.09},{"x":29,"y":5.25,"v":-0.09},{"x":31,"y":5.25,"v":-0.11},{"x":33,"y":5.25,"v":-0.09},{"x":35,"y":5.25,"v":-0.05},{"x":37,"y":5.25,"v":-0.01},{"x":39,"y":5.25,"v":-0.01},
{"x":1,"y":3.75,"v":0.01},{"x":3,"y":3.75,"v":0.01},{"x":5,"y":3.75,"v":0.01},{"x":7,"y":3.75,"v":-0.01},{"x":9,"y":3.75,"v":-0.03},{"x":11,"y":3.75,"v":-0.05},{"x":13,"y":3.75,"v":-0.07},{"x":15,"y":3.75,"v":-0.07},{"x":17,"y":3.75,"v":-0.05},{"x":19,"y":3.75,"v":-0.05},{"x":21,"y":3.75,"v":-0.07},{"x":23,"y":3.75,"v":-0.05},{"x":25,"y":3.75,"v":-0.07},{"x":27,"y":3.75,"v":-0.05},{"x":29,"y":3.75,"v":-0.07},{"x":31,"y":3.75,"v":-0.07},{"x":33,"y":3.75,"v":-0.07},{"x":35,"y":3.75,"v":-0.03},{"x":37,"y":3.75,"v":-0.01},{"x":39,"y":3.75,"v":-0.01},
{"x":1,"y":2.25,"v":0.01},{"x":3,"y":2.25,"v":0.01},{"x":5,"y":2.25,"v":0.01},{"x":7,"y":2.25,"v":-0.01},{"x":9,"y":2.25,"v":-0.01},{"x":11,"y":2.25,"v":-0.03},{"x":13,"y":2.25,"v":-0.05},{"x":15,"y":2.25,"v":-0.05},{"x":17,"y":2.25,"v":-0.03},{"x":19,"y":2.25,"v":-0.03},{"x":21,"y":2.25,"v":-0.05},{"x":23,"y":2.25,"v":-0.03},{"x":25,"y":2.25,"v":-0.05},{"x":27,"y":2.25,"v":-0.03},{"x":29,"y":2.25,"v":-0.03},{"x":31,"y":2.25,"v":-0.03},{"x":33,"y":2.25,"v":-0.05},{"x":35,"y":2.25,"v":-0.01},{"x":37,"y":2.25,"v":-0.01},{"x":39,"y":2.25,"v":-0.01},
{"x":1,"y":0.75,"v":0.01},{"x":3,"y":0.75,"v":0.01},{"x":5,"y":0.75,"v":0.01},{"x":7,"y":0.75,"v":-0.01},{"x":9,"y":0.75,"v":-0.01},{"x":11,"y":0.75,"v":-0.01},{"x":13,"y":0.75,"v":-0.01},{"x":15,"y":0.75,"v":-0.01},{"x":17,"y":0.75,"v":-0.01},{"x":19,"y":0.75,"v":-0.01},{"x":21,"y":0.75,"v":-0.01},{"x":23,"y":0.75,"v":-0.01},{"x":25,"y":0.75,"v":-0.01},{"x":27,"y":0.75,"v":-0.01},{"x":29,"y":0.75,"v":-0.01},{"x":31,"y":0.75,"v":-0.01},{"x":33,"y":0.75,"v":-0.01},{"x":35,"y":0.75,"v":-0.01},{"x":37,"y":0.75,"v":-0.01},{"x":39,"y":0.75,"v":-0.01}
]
},
"hconcat":[
{
"width":304,"height":303,
"title":{"text":"(a) RWBFreq(+)","anchor":"start","frame":"group","offset":6,"dx":-2},
"data":{"name":"pa"},
"layer":[
{"mark":{"type":"rect","strokeWidth":0.6},
"encoding":{
"x":{"field":"x","type":"quantitative","bin":{"extent":[0,40],"step":2},"scale":{"domain":[0,40],"nice":false},
"axis":{"orient":"bottom","title":"PW","values":[0,2,4,6,8,10,12,14,16,18,20,22,24,26,28,30,32,34,36,38,40],"labelExpr":"datum.value % 10 === 0 ? format(datum.value,'d') : ''","tickSize":{"condition":{"test":"datum.value % 10 === 0","value":8},"value":4},"tickWidth":{"condition":{"test":"datum.value % 10 === 0","value":2},"value":1.5},"labelPadding":15,"titlePadding":13}},
"y":{"field":"y","type":"quantitative","bin":{"extent":[0,30],"step":1.5},"scale":{"domain":[0,30],"nice":false},
"axis":{"orient":"left","title":"VWS","values":[0,1,2,3,4,5,6,7,8,9,10,11,12,13,14,15,16,17,18,19,20,21,22,23,24,25,26,27,28,29,30],"labelExpr":"datum.value % 5 === 0 ? format(datum.value,'d') : ''","tickSize":{"condition":{"test":"datum.value % 5 === 0","value":8},"value":4},"tickWidth":{"condition":{"test":"datum.value % 5 === 0","value":2},"value":1.5},"labelPadding":18,"titlePadding":12}},
"color":{"field":"v","type":"quantitative","scale":{"type":"threshold","domain":[0,0.1,0.2,0.3,0.4,0.5,0.6,0.7,0.8,0.9,1],"range":["#FFFFC0","#E5F5A0","#D4EE8A","#B7E67A","#95DC68","#6ECE5F","#3CC45C","#00B456","#00A04C","#009045","#00803D","#006B33"]},
"legend":{"type":"gradient","orient":"none","direction":"horizontal","legendX":114,"legendY":409,"gradientLength":399,"gradientThickness":27,"title":null,"labelOverlap":false,"labelFontSize":17,"labelOffset":8,"labelExpr":"round(datum.value*10) % 2 === 0 ? format(datum.value,'~g') : ''","encode":{"gradient":{"update":{"stroke":{"value":"black"},"strokeWidth":{"value":1}}}}}},
"stroke":{"field":"v","type":"quantitative","scale":{"type":"threshold","domain":[0,0.1,0.2,0.3,0.4,0.5,0.6,0.7,0.8,0.9,1],"range":["#FFFFC0","#E5F5A0","#D4EE8A","#B7E67A","#95DC68","#6ECE5F","#3CC45C","#00B456","#00A04C","#009045","#00803D","#006B33"]},"legend":null}
}},
{"mark":{"type":"rect","opacity":0},
"encoding":{
"x":{"field":"x","type":"quantitative","bin":{"extent":[0,40],"step":2},"axis":{"orient":"top","title":null,"labels":false,"values":[0,2,4,6,8,10,12,14,16,18,20,22,24,26,28,30,32,34,36,38,40],"tickSize":{"condition":{"test":"datum.value % 10 === 0","value":8},"value":4},"tickWidth":{"condition":{"test":"datum.value % 10 === 0","value":2},"value":1.5}}},
"y":{"field":"y","type":"quantitative","bin":{"extent":[0,30],"step":1.5},"axis":{"orient":"right","title":null,"labels":false,"values":[0,1,2,3,4,5,6,7,8,9,10,11,12,13,14,15,16,17,18,19,20,21,22,23,24,25,26,27,28,29,30],"tickSize":{"condition":{"test":"datum.value % 5 === 0","value":8},"value":4},"tickWidth":{"condition":{"test":"datum.value % 5 === 0","value":2},"value":1.5}}}
}},
{"data":{"values":[{"x":19.25}]},"mark":{"type":"rule","color":"black","strokeWidth":3.5,"strokeDash":[4.5,8.5],"strokeCap":"round"},"encoding":{"x":{"field":"x","type":"quantitative","axis":null}}},
{"data":{"values":[{"y":14.58}]},"mark":{"type":"rule","color":"black","strokeWidth":3.5,"strokeDash":[4.5,8.5],"strokeCap":"round"},"encoding":{"y":{"field":"y","type":"quantitative","axis":null}}}
],
"resolve":{"axis":{"x":"independent","y":"independent"}}
},
{
"width":304,"height":303,
"title":{"text":"(b) RWBFreq(-)","anchor":"start","frame":"group","offset":6,"dx":-2},
"data":{"name":"pb"},
"layer":[
{"mark":{"type":"rect","strokeWidth":0.6},
"encoding":{
"x":{"field":"x","type":"quantitative","bin":{"extent":[0,40],"step":2},"scale":{"domain":[0,40],"nice":false},
"axis":{"orient":"bottom","title":"PW","values":[0,2,4,6,8,10,12,14,16,18,20,22,24,26,28,30,32,34,36,38,40],"labelExpr":"datum.value % 10 === 0 ? format(datum.value,'d') : ''","tickSize":{"condition":{"test":"datum.value % 10 === 0","value":8},"value":4},"tickWidth":{"condition":{"test":"datum.value % 10 === 0","value":2},"value":1.5},"labelPadding":15,"titlePadding":13}},
"y":{"field":"y","type":"quantitative","bin":{"extent":[0,30],"step":1.5},"scale":{"domain":[0,30],"nice":false},
"axis":{"orient":"left","title":null,"values":[0,1,2,3,4,5,6,7,8,9,10,11,12,13,14,15,16,17,18,19,20,21,22,23,24,25,26,27,28,29,30],"labelExpr":"datum.value % 5 === 0 ? format(datum.value,'d') : ''","tickSize":{"condition":{"test":"datum.value % 5 === 0","value":8},"value":4},"tickWidth":{"condition":{"test":"datum.value % 5 === 0","value":2},"value":1.5},"labelPadding":18}},
"color":{"field":"v","type":"quantitative","scale":{"type":"threshold","domain":[0,0.1,0.2,0.3,0.4,0.5,0.6,0.7,0.8,0.9,1],"range":["#FFFFC0","#E5F5A0","#D4EE8A","#B7E67A","#95DC68","#6ECE5F","#3CC45C","#00B456","#00A04C","#009045","#00803D","#006B33"]},"legend":null},
"stroke":{"field":"v","type":"quantitative","scale":{"type":"threshold","domain":[0,0.1,0.2,0.3,0.4,0.5,0.6,0.7,0.8,0.9,1],"range":["#FFFFC0","#E5F5A0","#D4EE8A","#B7E67A","#95DC68","#6ECE5F","#3CC45C","#00B456","#00A04C","#009045","#00803D","#006B33"]},"legend":null}
}},
{"mark":{"type":"rect","opacity":0},
"encoding":{
"x":{"field":"x","type":"quantitative","bin":{"extent":[0,40],"step":2},"axis":{"orient":"top","title":null,"labels":false,"values":[0,2,4,6,8,10,12,14,16,18,20,22,24,26,28,30,32,34,36,38,40],"tickSize":{"condition":{"test":"datum.value % 10 === 0","value":8},"value":4},"tickWidth":{"condition":{"test":"datum.value % 10 === 0","value":2},"value":1.5}}},
"y":{"field":"y","type":"quantitative","bin":{"extent":[0,30],"step":1.5},"axis":{"orient":"right","title":null,"labels":false,"values":[0,1,2,3,4,5,6,7,8,9,10,11,12,13,14,15,16,17,18,19,20,21,22,23,24,25,26,27,28,29,30],"tickSize":{"condition":{"test":"datum.value % 5 === 0","value":8},"value":4},"tickWidth":{"condition":{"test":"datum.value % 5 === 0","value":2},"value":1.5}}}
}},
{"data":{"values":[{"x":20.4}]},"mark":{"type":"rule","color":"black","strokeWidth":3.5,"strokeDash":[4.5,8.5],"strokeCap":"round"},"encoding":{"x":{"field":"x","type":"quantitative","axis":null}}},
{"data":{"values":[{"y":13.2}]},"mark":{"type":"rule","color":"black","strokeWidth":3.5,"strokeDash":[4.5,8.5],"strokeCap":"round"},"encoding":{"y":{"field":"y","type":"quantitative","axis":null}}}
],
"resolve":{"axis":{"x":"independent","y":"independent"}}
},
{
"width":304,"height":303,
"title":{"text":"(c) RWBFreq Diff.","anchor":"start","frame":"group","offset":6,"dx":-2},
"data":{"name":"pc"},
"layer":[
{"mark":{"type":"rect","strokeWidth":0.6},
"encoding":{
"x":{"field":"x","type":"quantitative","bin":{"extent":[0,40],"step":2},"scale":{"domain":[0,40],"nice":false},
"axis":{"orient":"bottom","title":"PW","values":[0,2,4,6,8,10,12,14,16,18,20,22,24,26,28,30,32,34,36,38,40],"labelExpr":"datum.value % 10 === 0 ? format(datum.value,'d') : ''","tickSize":{"condition":{"test":"datum.value % 10 === 0","value":8},"value":4},"tickWidth":{"condition":{"test":"datum.value % 10 === 0","value":2},"value":1.5},"labelPadding":15,"titlePadding":13}},
"y":{"field":"y","type":"quantitative","bin":{"extent":[0,30],"step":1.5},"scale":{"domain":[0,30],"nice":false},
"axis":{"orient":"right","title":"VWS","titleAngle":270,"values":[0,1,2,3,4,5,6,7,8,9,10,11,12,13,14,15,16,17,18,19,20,21,22,23,24,25,26,27,28,29,30],"labelExpr":"datum.value % 5 === 0 ? format(datum.value,'d') : ''","tickSize":{"condition":{"test":"datum.value % 5 === 0","value":8},"value":4},"tickWidth":{"condition":{"test":"datum.value % 5 === 0","value":2},"value":1.5},"labelPadding":14,"titlePadding":44}},
"color":{"field":"v","type":"quantitative","scale":{"type":"threshold","domain":[-0.16,-0.14,-0.12,-0.1,-0.08,-0.06,-0.04,-0.02,0,0.02,0.04,0.06,0.08,0.1,0.12,0.14,0.16],"range":["#006B33","#008A3E","#009D4A","#00B454","#3DC45A","#7FD35E","#B5E57A","#D8F097","#EDF8B1","#FFF7A9","#FFE28C","#FFC977","#FFAB5D","#FF8848","#FF5E35","#FF3A23","#E31A22","#C70024"]},
"legend":{"type":"gradient","orient":"none","direction":"horizontal","legendX":14,"legendY":409,"gradientLength":303,"gradientThickness":27,"title":null,"labelOverlap":false,"labelFontSize":17,"labelOffset":8,"labelExpr":"round(datum.value*100) % 8 === 0 ? (round(datum.value*100) === 0 ? '0' : (datum.value < 0 ? '-' : '') + format(abs(datum.value),'.2f')) : ''","encode":{"gradient":{"update":{"stroke":{"value":"black"},"strokeWidth":{"value":1}}}}}},
"stroke":{"field":"v","type":"quantitative","scale":{"type":"threshold","domain":[-0.16,-0.14,-0.12,-0.1,-0.08,-0.06,-0.04,-0.02,0,0.02,0.04,0.06,0.08,0.1,0.12,0.14,0.16],"range":["#006B33","#008A3E","#009D4A","#00B454","#3DC45A","#7FD35E","#B5E57A","#D8F097","#EDF8B1","#FFF7A9","#FFE28C","#FFC977","#FFAB5D","#FF8848","#FF5E35","#FF3A23","#E31A22","#C70024"]},"legend":null}
}},
{"mark":{"type":"rect","opacity":0},
"encoding":{
"x":{"field":"x","type":"quantitative","bin":{"extent":[0,40],"step":2},"axis":{"orient":"top","title":null,"labels":false,"values":[0,2,4,6,8,10,12,14,16,18,20,22,24,26,28,30,32,34,36,38,40],"tickSize":{"condition":{"test":"datum.value % 10 === 0","value":8},"value":4},"tickWidth":{"condition":{"test":"datum.value % 10 === 0","value":2},"value":1.5}}},
"y":{"field":"y","type":"quantitative","bin":{"extent":[0,30],"step":1.5},"axis":{"orient":"left","title":null,"labels":false,"values":[0,1,2,3,4,5,6,7,8,9,10,11,12,13,14,15,16,17,18,19,20,21,22,23,24,25,26,27,28,29,30],"tickSize":{"condition":{"test":"datum.value % 5 === 0","value":8},"value":4},"tickWidth":{"condition":{"test":"datum.value % 5 === 0","value":2},"value":1.5}}}
}}
],
"resolve":{"axis":{"x":"independent","y":"independent"}}
}
],
"config":{
"font":"DejaVu Sans",
"view":{"stroke":null},
"axis":{"domainColor":"black","domainWidth":2,"tickColor":"black","labelFont":"DejaVu Sans","labelFontSize":17,"labelColor":"black","titleFont":"DejaVu Sans","titleFontSize":26,"titleFontWeight":"normal","titleColor":"black","grid":false,"zindex":1,"labelOverlap":false,"labelFlush":false,"labelBound":false},
"title":{"font":"DejaVu Sans","fontSize":28,"fontWeight":"normal","color":"black"},
"legend":{"labelFont":"DejaVu Sans","labelColor":"black","padding":0}
}
}
